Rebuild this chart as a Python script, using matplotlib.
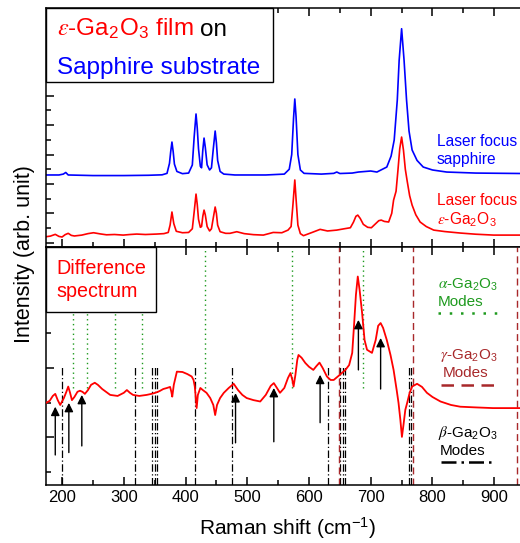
import numpy as np
import matplotlib.pyplot as plt
from matplotlib.patches import Rectangle
from matplotlib.lines import Line2D
from matplotlib.ticker import MultipleLocator, FixedLocator

plt.rcParams['font.family'] = ['Liberation Sans', 'DejaVu Sans']
plt.rcParams['mathtext.fontset'] = 'custom'
plt.rcParams['mathtext.rm'] = 'Liberation Sans'
plt.rcParams['mathtext.it'] = 'STIXGeneral:italic'
plt.rcParams['mathtext.bf'] = 'Liberation Sans:bold'

RED = '#ff0000'
BLUE = '#0000ff'
GREEN = '#1e9a1e'
DARKRED = '#a8282a'

# top panel: laser focus on sapphire (blue) and on the film (red)
sapphire_shift = [174, 195, 202, 206, 210, 250, 300, 340, 362, 370, 374, 376, 378, 380,
                  382, 386, 395, 405, 411, 414, 417, 419, 421, 424, 426, 428, 430, 432,
                  435, 439, 442, 445, 448, 450, 452, 456, 462, 480, 530, 560, 568, 572,
                  575, 577, 579, 582, 586, 592, 620, 640, 645, 650, 670, 680, 700, 710,
                  726, 733, 738, 743, 746, 750, 754, 758, 762, 767, 775, 785, 800, 823,
                  870, 945]
sapphire_int = [4.61, 4.61, 4.67, 4.78, 4.61, 4.57, 4.57, 4.59, 4.62, 4.72, 5.40, 6.20,
                6.85, 6.20, 5.35, 4.85, 4.70, 4.74, 5.29, 7.20, 8.76, 7.80, 6.40, 5.20,
                5.10, 6.31, 7.12, 6.50, 5.30, 4.95, 5.10, 6.40, 7.60, 6.80, 5.60, 4.85,
                4.67, 4.61, 4.61, 4.67, 5.00, 6.00, 8.50, 9.78, 8.60, 6.00, 4.95, 4.72,
                4.67, 4.72, 4.81, 4.71, 4.74, 4.81, 4.88, 4.81, 5.15, 5.90, 6.99, 9.71,
                12.40, 14.56, 12.40, 9.71, 7.60, 6.31, 5.60, 5.15, 4.95, 4.81, 4.74, 4.71]

film_shift = [174, 181, 189, 195, 200, 205, 210, 215, 220, 232, 242, 251, 262, 272, 285,
              299, 310, 321, 335, 353, 365, 372, 375, 378, 381, 385, 395, 405, 411, 414,
              417, 419, 421, 424, 426, 428, 430, 432, 435, 439, 442, 445, 448, 450, 452,
              456, 465, 472, 483, 495, 510, 526, 542, 556, 566, 571, 574, 577, 579, 582,
              586, 591, 605, 618, 630, 645, 657, 667, 672, 676, 679, 683, 688, 695, 701,
              708, 713, 717, 722, 729, 734, 737, 741, 744, 747, 750, 753, 756, 759, 763,
              767, 773, 780, 790, 802, 820, 845, 870, 899, 945]
film_int = [0.41, 0.45, 0.57, 0.43, 0.39, 0.55, 0.64, 0.50, 0.46, 0.52, 0.62, 0.68, 0.60,
            0.54, 0.56, 0.52, 0.56, 0.59, 0.56, 0.59, 0.62, 0.70, 1.20, 2.09, 1.30, 0.78,
            0.68, 0.70, 0.95, 2.10, 3.31, 2.60, 1.60, 1.05, 1.10, 1.80, 2.22, 1.90, 1.10,
            0.80, 0.95, 1.70, 2.43, 2.00, 1.20, 0.75, 0.64, 0.64, 0.75, 0.62, 0.55, 0.52,
            0.70, 0.68, 0.86, 1.10, 2.60, 4.27, 3.00, 1.20, 0.62, 0.48, 0.70, 0.91, 0.80,
            0.86, 0.95, 1.02, 1.40, 1.80, 1.88, 1.65, 1.25, 1.05, 1.02, 1.30, 1.50, 1.54,
            1.45, 1.41, 2.00, 2.90, 3.50, 4.90, 6.40, 7.19, 6.30, 5.00, 4.20, 3.20, 2.56,
            1.90, 1.41, 1.10, 0.86, 0.76, 0.66, 0.58, 0.52, 0.52]

# bottom panel: difference spectrum
diff_shift = [174, 180, 185, 189, 193, 197, 203, 207, 210, 213, 216, 220, 225, 229, 233,
              237, 242, 247, 253, 258, 265, 278, 290, 300, 305, 310, 315, 325, 337, 345,
              351, 358, 364, 370, 375, 377, 378.5, 381, 386, 395, 403, 410, 413, 415, 418,
              420, 424, 428, 434, 440, 445, 448, 451, 456, 462, 470, 478, 485, 492, 499,
              510, 521, 530, 538, 543, 547, 553, 560, 566, 570, 573, 575, 578, 581, 583,
              588, 594, 600, 607, 612, 617, 622, 629, 635, 640, 648, 659, 665, 670, 673,
              676, 679, 682, 686, 690, 694, 702, 708, 712, 716, 720, 726, 732, 737, 742,
              745, 748, 750.5, 753, 756, 759, 763, 767, 775, 783, 791, 800, 813, 830, 845,
              870, 898, 945]
diff_int = [1.99, 2.05, 2.19, 2.25, 2.07, 1.93, 2.13, 2.31, 2.46, 2.28, 2.07, 2.16, 2.31,
            2.34, 2.31, 2.25, 2.36, 2.51, 2.57, 2.51, 2.39, 2.22, 2.19, 2.28, 2.36, 2.28,
            2.22, 2.19, 2.22, 2.25, 2.28, 2.33, 2.39, 2.42, 2.45, 2.31, 2.17, 2.51, 2.89,
            2.88, 2.82, 2.75, 2.65, 2.46, 1.84, 2.22, 2.42, 2.36, 2.28, 2.13, 1.93, 1.64,
            1.93, 2.13, 2.28, 2.42, 2.54, 2.36, 2.22, 2.13, 2.07, 2.03, 2.22, 2.48, 2.56,
            2.45, 2.28, 2.42, 2.71, 2.85, 2.65, 2.46, 2.80, 3.23, 3.37, 3.29, 3.14, 3.03,
            2.94, 3.05, 3.15, 3.00, 2.75, 2.65, 2.65, 2.77, 2.94, 3.08, 3.43, 4.24, 5.10,
            5.63, 5.24, 4.58, 3.80, 3.52, 3.43, 3.80, 4.21, 4.29, 4.15, 3.80, 3.37, 2.94,
            2.36, 1.99, 1.50, 1.01, 1.35, 1.79, 1.99, 2.28, 2.46, 2.54, 2.45, 2.28, 2.16,
            2.03, 1.93, 1.88, 1.86, 1.84, 1.84]

alpha_modes = [217, 241, 286, 329, 432, 573, 688]
beta_modes = [200, 318, 346, 350, 353, 416, 475, 630, 651, 655, 658, 762, 766]
gamma_modes = [648, 769, 937]

arrow_shift = [189, 211, 232, 481, 543, 618, 680, 716]
arrow_tail = [0.49, 0.56, 0.75, 0.84, 0.87, 1.42, 2.94, 2.39]
arrow_tip = [1.88, 1.99, 2.22, 2.27, 2.42, 2.80, 4.38, 3.86]

W, H = 520, 543
fig = plt.figure(figsize=(W / 100, H / 100), dpi=100)
ax1 = fig.add_axes([46 / W, 1 - 247 / H, 476 / W, 239 / H])
ax2 = fig.add_axes([46 / W, 1 - 485 / H, 476 / W, 238 / H], sharex=ax1)

for ax in (ax1, ax2):
    for s in ax.spines.values():
        s.set_linewidth(1.1)
    ax.tick_params(which='both', direction='in', top=True, right=False, width=1.1,
                   labelsize=12)
    ax.tick_params(which='major', length=6)
    ax.tick_params(which='minor', length=3.5)
    ax.xaxis.set_major_locator(MultipleLocator(100))
    ax.xaxis.set_minor_locator(MultipleLocator(50))

ax1.set_xlim(174, 945)
ax1.tick_params(labelbottom=False)

# top panel
ax1.plot(sapphire_shift, sapphire_int, color=BLUE, lw=1.2)
ax1.plot(film_shift, film_int, color=RED, lw=1.2)
ax1.set_ylim(-0.29, 15.97)
ax1.yaxis.set_major_locator(MultipleLocator(2))
ax1.yaxis.set_minor_locator(MultipleLocator(1))
ax1.set_yticklabels([])

ax1.add_patch(Rectangle((0, 0.690), 0.477, 0.31, transform=ax1.transAxes,
                        facecolor='white', edgecolor='black', lw=1.0, zorder=3,
                        clip_on=False))
ax1.text(0.023, 0.883, r'$\varepsilon$-Ga$_2$O$_3$ film', color=RED, fontsize=17.5,
         transform=ax1.transAxes, va='baseline', zorder=4)
ax1.text(0.3235, 0.883, 'on', color='black', fontsize=17.5,
         transform=ax1.transAxes, va='baseline', zorder=4)
ax1.text(0.023, 0.724, 'Sapphire substrate', color=BLUE, fontsize=17.5,
         transform=ax1.transAxes, va='baseline', zorder=4)

ax1.text(0.8208, 0.4226, 'Laser focus', color=BLUE, fontsize=11.2,
         transform=ax1.transAxes, va='baseline')
ax1.text(0.8208, 0.3473, 'sapphire', color=BLUE, fontsize=11.2,
         transform=ax1.transAxes, va='baseline')
ax1.text(0.8208, 0.1757, 'Laser focus', color=RED, fontsize=11.2,
         transform=ax1.transAxes, va='baseline')
ax1.text(0.8208, 0.092, r'$\varepsilon$-Ga$_2$O$_3$', color=RED, fontsize=11.2,
         transform=ax1.transAxes, va='baseline')

# bottom panel
y0, y1 = -0.375, 6.48
ax2.set_ylim(y0, y1)
ax2.yaxis.set_major_locator(FixedLocator([1, 3, 5]))
ax2.yaxis.set_minor_locator(FixedLocator([0, 2, 4, 6]))
ax2.set_yticklabels([])

for m in alpha_modes:
    ax2.plot([m, m], [2.42, y1], color=GREEN, lw=1.0, ls=(0, (1, 2.5)))
for m in beta_modes:
    ax2.plot([m, m], [y0, 3.08], color='black', lw=0.9, ls=(0, (6, 2, 1, 2)))
for m in gamma_modes:
    ax2.plot([m, m], [y0, y1], color=DARKRED, lw=1.0, ls=(0, (5, 3)))

ax2.plot(diff_shift, diff_int, color=RED, lw=1.3, zorder=3)

for xs, yt, yh in zip(arrow_shift, arrow_tail, arrow_tip):
    ax2.annotate('', xy=(xs, yh), xytext=(xs, yt),
                 arrowprops=dict(arrowstyle='-|>', color='black', lw=1.0,
                                 mutation_scale=13, shrinkA=0, shrinkB=0),
                 zorder=4)

ax2.add_patch(Rectangle((0, 0.728), 0.2305, 0.272, transform=ax2.transAxes,
                        facecolor='white', edgecolor='black', lw=1.0, zorder=5,
                        clip_on=False))
ax2.text(0.0225, 0.886, 'Difference', color=RED, fontsize=14.2,
         transform=ax2.transAxes, va='baseline', zorder=6)
ax2.text(0.0225, 0.791, 'spectrum', color=RED, fontsize=14.2,
         transform=ax2.transAxes, va='baseline', zorder=6)

# mode legend on the right
lx = 0.8235
ax2.text(lx, 0.826, r'$\alpha$-Ga$_2$O$_3$', color=GREEN, fontsize=11,
         transform=ax2.transAxes, va='baseline')
ax2.text(lx, 0.752, 'Modes', color=GREEN, fontsize=11,
         transform=ax2.transAxes, va='baseline')
ax2.add_line(Line2D([0.8235, 0.95], [0.722, 0.722], transform=ax2.transAxes,
                    color=GREEN, lw=1.8, ls=(0, (1, 3.5))))
ax2.text(lx + 0.004, 0.53, r'$\gamma$-Ga$_2$O$_3$', color=DARKRED, fontsize=11,
         transform=ax2.transAxes, va='baseline')
ax2.text(lx + 0.01, 0.452, 'Modes', color=DARKRED, fontsize=11,
         transform=ax2.transAxes, va='baseline')
ax2.add_line(Line2D([0.83, 0.954], [0.42, 0.42], transform=ax2.transAxes,
                    color=DARKRED, lw=1.8, ls=(0, (5, 3))))
ax2.text(lx, 0.2, r'$\beta$-Ga$_2$O$_3$', color='black', fontsize=11,
         transform=ax2.transAxes, va='baseline')
ax2.text(lx + 0.004, 0.124, 'Modes', color='black', fontsize=11,
         transform=ax2.transAxes, va='baseline')
ax2.add_line(Line2D([0.83, 0.94], [0.098, 0.098], transform=ax2.transAxes,
                    color='black', lw=1.8, ls=(0, (6, 2, 1, 2))))

fig.text(288 / W, 1 - 528 / H, r'Raman shift (cm$^{-1}$)', fontsize=15,
         ha='center', va='center')
fig.text(25 / W, 1 - 254 / H, 'Intensity (arb. unit)', fontsize=15.5,
         ha='center', va='center', rotation=90)

fig.savefig('out.png', dpi=100)
